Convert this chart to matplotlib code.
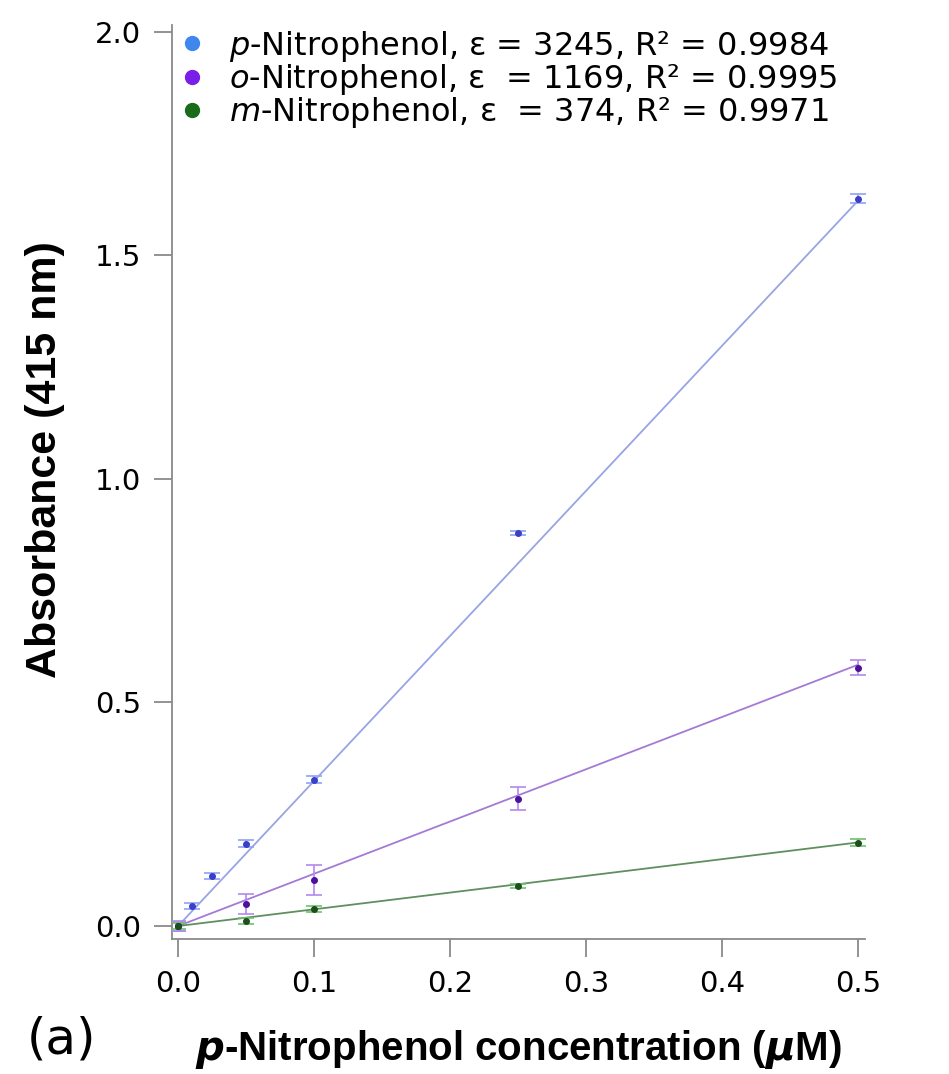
import numpy as np
import matplotlib
matplotlib.use("Agg")
import matplotlib.pyplot as plt

plt.rcParams['font.family'] = ['DejaVu Sans']
plt.rcParams['mathtext.fontset'] = 'dejavusans'

# concentrations (uM) and absorbance readings at 415 nm
conc_p = [0.0, 0.01, 0.025, 0.05, 0.1, 0.25, 0.5]
abs_p = [0.0, 0.045, 0.112, 0.184, 0.327, 0.879, 1.626]
err_p = [0.01, 0.006, 0.006, 0.008, 0.008, 0.004, 0.01]

conc_o = [0.0, 0.05, 0.1, 0.25, 0.5]
abs_o = [0.0, 0.049, 0.103, 0.285, 0.578]
err_o = [0.012, 0.022, 0.034, 0.026, 0.016]

conc_m = [0.0, 0.05, 0.1, 0.25, 0.5]
abs_m = [0.0, 0.011, 0.038, 0.09, 0.186]
err_m = [0.006, 0.006, 0.006, 0.004, 0.008]

eps = [3245, 1169, 374]
r2 = [0.9984, 0.9995, 0.9971]

legend_labels = [
    r"$p$-Nitrophenol, ε = 3245, R² = 0.9984",
    r"$o$-Nitrophenol, ε  = 1169, R² = 0.9995",
    r"$m$-Nitrophenol, ε  = 374, R² = 0.9971",
]

marker_cols = ['#3f86ee', '#7a1fe8', '#1a6b1a']
point_cols = ['#3a3fc8', '#4a129a', '#1d4f1d']
err_cols = ['#8fa3f2', '#b487f0', '#6cc26c']
line_cols = ['#98a4e4', '#a47ad6', '#5f8f5f']

fig = plt.figure(figsize=(9.49, 10.74), dpi=100)
ax = fig.add_axes([0.1812, 0.1257, 0.7303, 0.851])

series = [(conc_p, abs_p, err_p), (conc_o, abs_o, err_o), (conc_m, abs_m, err_m)]
xfit = np.array([0.0, 0.5])
for i, (x, y, e) in enumerate(series):
    ax.plot(xfit, eps[i] / 1000 * xfit, color=line_cols[i], lw=1.3, zorder=1)
    ax.errorbar(x, y, yerr=e, fmt='o', ms=4, color=point_cols[i],
                ecolor=err_cols[i], elinewidth=1.2, capsize=6, capthick=1.2,
                zorder=3)
    ax.plot([], [], 'o', ms=10, color=marker_cols[i], label=legend_labels[i])

ax.set_xlim(-0.0045, 0.505)
ax.set_ylim(-0.029, 2.015)
ax.set_xticks([0.0, 0.1, 0.2, 0.3, 0.4, 0.5])
ax.set_yticks([0.0, 0.5, 1.0, 1.5, 2.0])
ax.xaxis.set_major_formatter(matplotlib.ticker.FormatStrFormatter('%.1f'))
ax.yaxis.set_major_formatter(matplotlib.ticker.FormatStrFormatter('%.1f'))

for side in ['top', 'right']:
    ax.spines[side].set_visible(False)
for side in ['left', 'bottom']:
    ax.spines[side].set_color('#8a8a8a')
    ax.spines[side].set_linewidth(1.3)
ax.tick_params(direction='out', length=13, width=1.3, color='#8a8a8a',
               labelsize=21, pad=9)

ax.set_ylabel("Absorbance (415 nm)", fontsize=31, fontweight='bold',
              family=['Liberation Sans', 'DejaVu Sans'])
ax.yaxis.set_label_coords(-0.155, 0.525)
ax.set_xlabel(r"$\mathbfit{p}$-Nitrophenol concentration ($\mathbfit{\mu}$M)",
              fontsize=29, fontweight='bold',
              family=['Liberation Sans', 'DejaVu Sans'])
ax.xaxis.set_label_coords(0.5, -0.097)

fig.text(0.028, 0.032, "(a)", fontsize=36, va='center', ha='left')

ax.legend(loc='upper left', bbox_to_anchor=(-0.008, 1.01), frameon=False,
          fontsize=23, handletextpad=0.75, labelspacing=-0.06, handlelength=0.8,
          borderaxespad=0.0)

fig.savefig("out.png", dpi=100)
